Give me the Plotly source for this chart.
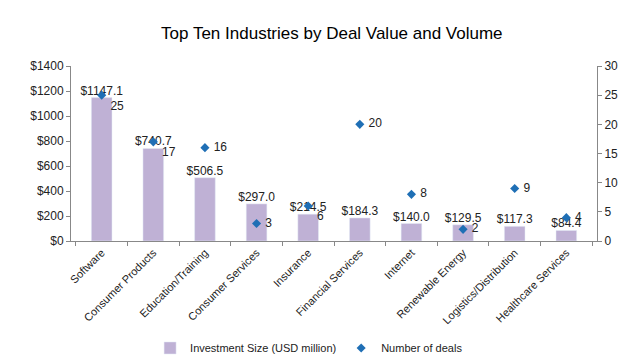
import plotly.graph_objects as go

categories = ["Software", "Consumer Products", "Education/Training", "Consumer Services",
              "Insurance", "Financial Services", "Internet", "Renewable Energy",
              "Logistics/Distribution", "Healthcare Services"]
investment = [1147.1, 740.7, 506.5, 297.0, 214.5, 184.3, 140.0, 129.5, 117.3, 84.4]
deals = [25, 17, 16, 3, 6, 20, 8, 2, 9, 4]

font = "Liberation Sans, Arial, sans-serif"

deal_pos = ["bottom right", "bottom right", "middle right", "middle right", "bottom right",
            "middle right", "middle right", "middle right", "middle right", "middle right"]

fig = go.Figure()
fig.add_trace(go.Bar(
    x=categories, y=investment, name="Investment Size (USD million)",
    marker=dict(color="#BFB1D5"), width=0.4,
))
fig.add_trace(go.Scatter(
    x=categories, y=investment, mode="text", showlegend=False, hoverinfo="skip",
    text=[f"${v:.1f}" for v in investment], textposition="top center",
    textfont=dict(size=12, color="#222"), cliponaxis=False,
))
fig.add_trace(go.Scatter(
    x=categories, y=deals, name="Number of deals", yaxis="y2",
    mode="markers+text", marker=dict(symbol="diamond", size=7, color="#1F6FB5"),
    text=[" " + str(d) for d in deals], textposition=deal_pos,
    textfont=dict(size=12, color="#222"), cliponaxis=False,
))
fig.update_layout(
    width=640, height=364,
    margin=dict(l=63, r=51, t=58, b=131, autoexpand=False),
    paper_bgcolor="white", plot_bgcolor="white",
    font=dict(family=font, size=12, color="#222"),
    title=dict(text="Top Ten Industries by Deal Value and Volume", x=0.506, xanchor="center",
               y=0.931, yanchor="middle", font=dict(size=17, color="#000")),
    showlegend=True,
    legend=dict(orientation="h", xref="container", yref="container", x=0.222, xanchor="left",
                y=0.066, yanchor="middle", font=dict(size=11), itemwidth=30,
                bgcolor="rgba(0,0,0,0)"),
    xaxis=dict(showline=True, linecolor="#888", ticks="outside", tickson="boundaries",
               tickcolor="#888", ticklen=4, tickangle=-45, showgrid=False, automargin=False,
               tickfont=dict(size=11)),
    yaxis=dict(range=[0, 1400], dtick=200, tickprefix="$", showline=True, linecolor="#888",
               ticks="outside", tickcolor="#888", ticklen=4, showgrid=False, zeroline=False,
               automargin=False, tickfont=dict(size=12)),
    yaxis2=dict(range=[0, 30], dtick=5, overlaying="y", side="right", showline=True,
                linecolor="#888", ticks="outside", tickcolor="#888", ticklen=4,
                showgrid=False, zeroline=False, automargin=False, tickfont=dict(size=12)),
    bargap=0.6,
)
fig.write_html("out.html")
